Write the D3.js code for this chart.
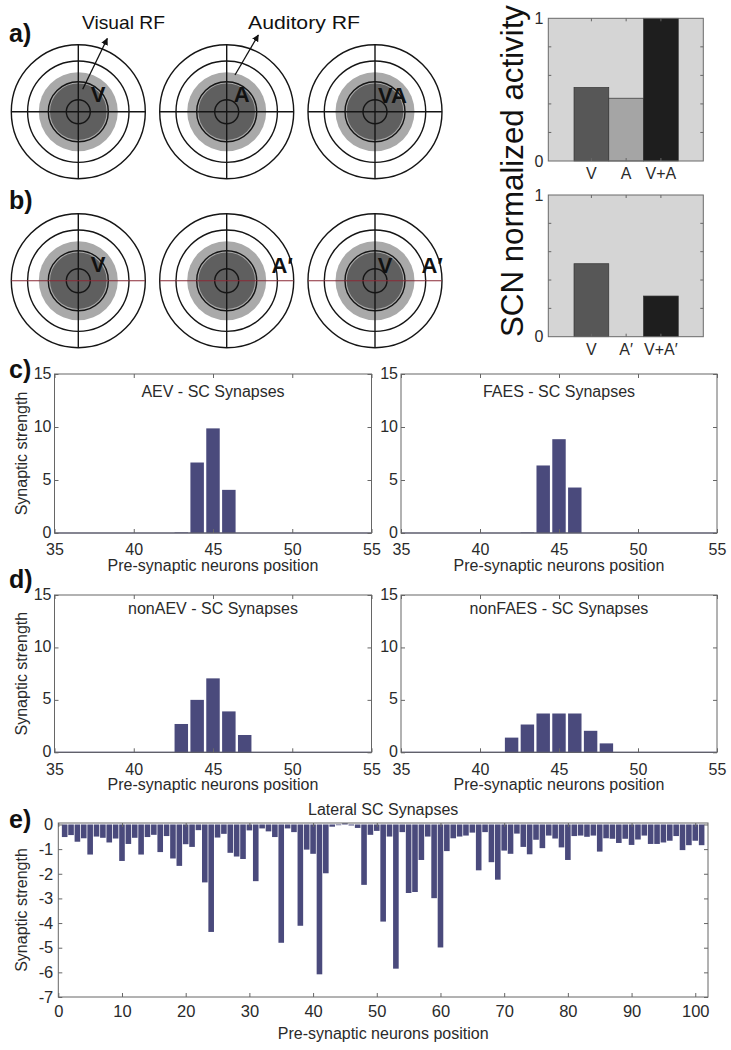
<!DOCTYPE html>
<html>
<head>
<meta charset="utf-8">
<style>
  body { margin: 0; background: #fff; }
  svg { display: block; font-family: "Liberation Sans", Arial, sans-serif; }
</style>
</head>
<body>
<div id="fig"></div>
<script src="https://cdn.jsdelivr.net/npm/d3@7/dist/d3.min.js"></script>
<script>
// ---- data ----
// top right: SCN normalized activity
const actLabelsA = ["V", "A", "V+A"];
const actValuesA = [0.515, 0.44, 1.0];
const actLabelsB = ["V", "A\u2032", "V+A\u2032"];
const actValuesB = [0.515, 0, 0.287];
const actColors = ["#575757", "#a5a5a5", "#1e1e1e"];
const actTicks = [0, 1];

// c) and d): pre-synaptic positions 35..55
const synPos = [35, 36, 37, 38, 39, 40, 41, 42, 43, 44, 45, 46, 47, 48, 49, 50, 51, 52, 53, 54, 55];
const aevVals     = [0, 0, 0, 0, 0, 0, 0, 0, 0.05, 6.65, 9.87, 4.07, 0, 0, 0, 0, 0, 0, 0, 0, 0];
const faesVals    = [0, 0, 0, 0, 0, 0, 0, 0, 0.05, 6.37, 8.85, 4.29, 0, 0, 0, 0, 0, 0, 0, 0, 0];
const nonAevVals  = [0, 0, 0, 0, 0, 0, 0, 0, 2.7, 5.0, 7.05, 3.9, 1.65, 0, 0, 0, 0, 0, 0, 0, 0];
const nonFaesVals = [0, 0, 0, 0, 0, 0, 0, 1.4, 2.65, 3.7, 3.7, 3.7, 2.05, 0.85, 0, 0, 0, 0, 0, 0, 0];
const synXTicks = [35, 40, 45, 50, 55];
const synYTicks = [0, 5, 10, 15];

// e): lateral synapses, positions 1..101
const lateralVals = [
  -0.51, -0.43, -0.70, -0.56, -1.22, -0.49, -0.54, -0.73, -0.57, -1.48,
  -0.79, -0.54, -1.22, -0.51, -0.42, -1.12, -0.47, -1.38, -1.68, -0.80,
  -0.91, -0.23, -2.35, -4.36, -0.53, -0.38, -1.15, -1.30, -1.40, -0.24,
  -2.30, -0.16, -0.28, -0.51, -4.80, -0.16, -0.31, -4.11, -1.02, -1.19,
  -6.08, -1.98, -0.09, -0.03, 0.05, -0.04, -0.14, -2.45, -0.42, -0.26,
  -3.94, -0.49, -5.85, -0.31, -2.78, -2.74, -1.44, -0.49, -2.99, -4.99,
  -1.08, -0.56, -0.49, -0.45, -0.33, -1.86, -0.31, -1.53, -2.24, -1.06,
  -1.19, -0.37, -0.91, -1.21, -0.62, -0.96, -0.45, -0.57, -0.93, -1.44,
  -0.47, -0.45, -0.50, -0.45, -1.10, -0.56, -0.58, -0.75, -0.58, -0.83,
  -0.61, -0.45, -0.79, -0.79, -0.73, -0.66, -0.47, -1.04, -0.84, -0.66,
  -0.84
];
const latXTicks = [0, 10, 20, 30, 40, 50, 60, 70, 80, 90, 100];
const latYTicks = [-7, -6, -5, -4, -3, -2, -1, 0];

// receptive field schematics
const rowA = ["V", "A", "VA"];
const rowB = ["V", "A\u2032", "V A\u2032"];

const barBlue = "#4a4a7c";
const frameCol = "#666";
const textCol = "#2a2a2a";

const svg = d3.select("#fig").append("svg").attr("width", 731).attr("height", 1050);
svg.append("rect").attr("width", 731).attr("height", 1050).attr("fill", "#fff");

svg.append("defs").append("marker")
  .attr("id", "arr").attr("viewBox", "0 0 10 10").attr("refX", 9).attr("refY", 5)
  .attr("markerWidth", 7).attr("markerHeight", 7).attr("orient", "auto-start-reverse")
  .attr("markerUnits", "userSpaceOnUse")
  .append("path").attr("d", "M0,0 L10,5 L0,10 z").attr("fill", "#111");

function panelLetter(txt, x, y) {
  svg.append("text").attr("x", x).attr("y", y).text(txt)
    .attr("font-size", 25).attr("font-weight", "bold").attr("fill", "#111");
}

// ---- a) b) target schematics ----
function target(cx, cy, red) {
  const g = svg.append("g").attr("transform", "translate(" + cx + "," + cy + ")");
  g.append("circle").attr("r", 39.5).attr("fill", "#a9a9a9");
  g.append("circle").attr("r", 28.3).attr("fill", "#5f5f5f");
  [67, 50.7, 30, 12].forEach(function (r) {
    g.append("circle").attr("r", r).attr("fill", "none")
      .attr("stroke", "#151515").attr("stroke-width", 1.4);
  });
  g.append("line").attr("x1", 0).attr("x2", 0).attr("y1", -67).attr("y2", 67)
    .attr("stroke", "#151515").attr("stroke-width", 1.4);
  g.append("line").attr("x1", -67).attr("x2", 67).attr("y1", 0).attr("y2", 0)
    .attr("stroke", red ? "#8a2a36" : "#151515").attr("stroke-width", red ? 1.1 : 1.4);
}

const circX = [78.3, 226.7, 375];
circX.forEach(function (cx) { target(cx, 111.7, false); });
circX.forEach(function (cx) { target(cx, 280.7, true); });

function bold(txt, x, y, anchor) {
  svg.append("text").attr("x", x).attr("y", y).text(txt)
    .attr("text-anchor", anchor || "middle")
    .attr("font-size", 22).attr("font-weight", "bold").attr("fill", "#111");
}
bold(rowA[0], 98, 101.7);
bold(rowA[1], 241.7, 101.7);
bold(rowA[2], 392.5, 102.5);
bold(rowB[0], 98, 272);
bold(rowB[1], 271.5, 273, "start");
bold("V", 385, 273);
bold("A\u2032", 421.5, 273, "start");

svg.append("line").attr("x1", 82.7).attr("y1", 89.3).attr("x2", 107.3).attr("y2", 38.5)
  .attr("stroke", "#111").attr("stroke-width", 1.3).attr("marker-end", "url(#arr)");
svg.append("line").attr("x1", 235).attr("y1", 75).attr("x2", 258.3).attr("y2", 35)
  .attr("stroke", "#111").attr("stroke-width", 1.3).attr("marker-end", "url(#arr)");

svg.append("text").attr("x", 123.5).attr("y", 28.5).text("Visual RF")
  .attr("text-anchor", "middle").attr("font-size", 19).attr("fill", "#111")
  .attr("textLength", 83).attr("lengthAdjust", "spacingAndGlyphs");
svg.append("text").attr("x", 304).attr("y", 28.5).text("Auditory RF")
  .attr("text-anchor", "middle").attr("font-size", 19).attr("fill", "#111")
  .attr("textLength", 112).attr("lengthAdjust", "spacingAndGlyphs");

panelLetter("a)", 9, 42);
panelLetter("b)", 9, 209);

// ---- top right activity bars ----
function actPanel(top, bottom, labels, values) {
  const x = d3.scaleLinear().domain([-0.24, 4.22]).range([548.3, 703.3]);
  const y = d3.scaleLinear().domain([0, 1]).range([bottom, top]);
  const g = svg.append("g");
  g.append("rect").attr("x", x(-0.24)).attr("y", top).attr("width", x(4.22) - x(-0.24))
    .attr("height", bottom - top).attr("fill", "#d5d5d5");
  const bw = x(1) - x(0);
  g.selectAll(".bar").data(values).enter().append("rect")
    .attr("x", (d, i) => x(i + 1) - bw / 2)
    .attr("y", d => y(d))
    .attr("width", bw)
    .attr("height", d => y(0) - y(d))
    .attr("fill", (d, i) => actColors[i])
    .attr("stroke", "#333").attr("stroke-width", 0.7);
  const yt = [0.2, 0.4, 0.6, 0.8];
  g.selectAll(".ytl").data(yt).enter().append("line")
    .attr("x1", x(-0.24)).attr("x2", x(-0.24) + 3).attr("y1", d => y(d)).attr("y2", d => y(d))
    .attr("stroke", "#666");
  g.selectAll(".ytr").data(yt).enter().append("line")
    .attr("x1", x(4.22)).attr("x2", x(4.22) - 3).attr("y1", d => y(d)).attr("y2", d => y(d))
    .attr("stroke", "#666");
  g.selectAll(".xtt").data([1, 2, 3]).enter().append("line")
    .attr("x1", d => x(d)).attr("x2", d => x(d)).attr("y1", top).attr("y2", top + 3)
    .attr("stroke", "#666");
  g.selectAll(".xtb").data([1, 2, 3]).enter().append("line")
    .attr("x1", d => x(d)).attr("x2", d => x(d)).attr("y1", bottom).attr("y2", bottom - 3)
    .attr("stroke", "#666");
  g.append("rect").attr("x", x(-0.24)).attr("y", top).attr("width", x(4.22) - x(-0.24))
    .attr("height", bottom - top).attr("fill", "none").attr("stroke", "#6a6a6a").attr("stroke-width", 1);
  g.selectAll(".yl").data(actTicks).enter().append("text")
    .attr("x", x(-0.24) - 5).attr("y", d => y(d)).attr("dy", "0.35em")
    .attr("text-anchor", "end").attr("font-size", 16).attr("fill", textCol)
    .text(d => d);
  g.selectAll(".xl").data(labels).enter().append("text")
    .attr("x", (d, i) => x(i + 1)).attr("y", bottom + 18)
    .attr("text-anchor", "middle").attr("font-size", 16).attr("fill", textCol)
    .text(d => d);
}
actPanel(18.3, 161, actLabelsA, actValuesA);
actPanel(195, 336.7, actLabelsB, actValuesB);

svg.append("text").attr("transform", "translate(523,171) rotate(-90)")
  .attr("text-anchor", "middle").attr("font-size", 31).attr("fill", "#111")
  .attr("textLength", 332).attr("lengthAdjust", "spacingAndGlyphs")
  .text("SCN normalized activity");

// ---- generic framed bar panel (c, d, e) ----
function barPanel(o) {
  const x = d3.scaleLinear().domain(o.xDomain).range([o.left, o.right]);
  const y = d3.scaleLinear().domain(o.yDomain).range([o.bottom, o.top]);
  const g = svg.append("g");
  const bw = (x(1) - x(0)) * o.barWidth;
  if (o.baseline) {
    g.append("line").attr("x1", o.left).attr("x2", o.right).attr("y1", y(0)).attr("y2", y(0))
      .attr("stroke", barBlue).attr("stroke-width", 1.2);
  }
  g.selectAll(".bar").data(o.values).enter().append("rect")
    .attr("x", (d, i) => x(o.positions[i]) - bw / 2)
    .attr("y", d => y(Math.max(d, 0)))
    .attr("width", bw)
    .attr("height", d => Math.abs(y(d) - y(0)))
    .attr("fill", barBlue);

  const styleAxis = function (sel) {
    sel.select(".domain").remove();
    sel.selectAll(".tick line").attr("stroke", frameCol);
    sel.selectAll(".tick text").attr("fill", textCol).attr("font-size", o.fontSize)
      .attr("font-family", "Liberation Sans, Arial, sans-serif");
  };
  g.append("g").attr("transform", "translate(0," + o.bottom + ")")
    .call(d3.axisBottom(x).tickValues(o.xTicks).tickSizeInner(-4).tickSizeOuter(0)
      .tickPadding(o.xPad).tickFormat(d => String(d)))
    .call(styleAxis);
  g.append("g").attr("transform", "translate(0," + o.top + ")")
    .call(d3.axisTop(x).tickValues(o.xTicks).tickSizeInner(-4).tickSizeOuter(0).tickFormat(""))
    .call(styleAxis);
  g.append("g").attr("transform", "translate(" + o.left + ",0)")
    .call(d3.axisLeft(y).tickValues(o.yTicks).tickSizeInner(-4).tickSizeOuter(0)
      .tickPadding(o.yPad).tickFormat(d => String(d)))
    .call(styleAxis)
    .selectAll(".tick text").attr("dy", o.yDy);
  g.append("g").attr("transform", "translate(" + o.right + ",0)")
    .call(d3.axisRight(y).tickValues(o.yTicks).tickSizeInner(-4).tickSizeOuter(0).tickFormat(""))
    .call(styleAxis);
  g.append("rect").attr("x", o.left).attr("y", o.top).attr("width", o.right - o.left)
    .attr("height", o.bottom - o.top).attr("fill", "none").attr("stroke", frameCol).attr("stroke-width", 1);

  const cx = (o.left + o.right) / 2;
  g.append("text").attr("x", cx).attr("y", o.titleY).attr("text-anchor", "middle")
    .attr("font-size", 16).attr("fill", textCol).text(o.title);
  g.append("text").attr("x", cx).attr("y", o.bottom + o.xlabOff).attr("text-anchor", "middle")
    .attr("font-size", 16).attr("fill", textCol).text("Pre-synaptic neurons position");
  if (o.ylabel) {
    g.append("text").attr("transform", "translate(27," + ((o.top + o.bottom) / 2) + ") rotate(-90)")
      .attr("text-anchor", "middle").attr("font-size", 16).attr("fill", textCol).text("Synaptic strength");
  }
}

const synCommon = {
  xDomain: [35, 55], yDomain: [0, 15], positions: synPos,
  xTicks: synXTicks, yTicks: synYTicks, barWidth: 0.85,
  fontSize: 16, xPad: 11, yPad: 3, yDy: "0.25em", xlabOff: 38, baseline: true
};
barPanel(Object.assign({}, synCommon, { left: 54.5, right: 371.5, top: 374, bottom: 533,
  values: aevVals, title: "AEV - SC Synapses", titleY: 397, ylabel: true }));
barPanel(Object.assign({}, synCommon, { left: 401, right: 717, top: 374, bottom: 533,
  values: faesVals, title: "FAES - SC Synapses", titleY: 397 }));
barPanel(Object.assign({}, synCommon, { left: 54.5, right: 371.5, top: 595, bottom: 752.3,
  values: nonAevVals, title: "nonAEV - SC Synapses", titleY: 614, ylabel: true }));
barPanel(Object.assign({}, synCommon, { left: 401, right: 717, top: 595, bottom: 752.3,
  values: nonFaesVals, title: "nonFAES - SC Synapses", titleY: 614 }));

barPanel({
  xDomain: [0, 102], yDomain: [-7, 0.06], left: 58.3, right: 708, top: 823, bottom: 997,
  positions: lateralVals.map((v, i) => i + 1), values: lateralVals,
  xTicks: latXTicks, yTicks: latYTicks, barWidth: 0.88,
  fontSize: 16.5, xPad: 8, yPad: 5, yDy: "0.32em", xlabOff: 42, baseline: false,
  title: "Lateral SC Synapses", titleY: 815, ylabel: true
});

panelLetter("c)", 9, 378);
panelLetter("d)", 9, 588);
panelLetter("e)", 9, 828);
</script>
</body>
</html>
